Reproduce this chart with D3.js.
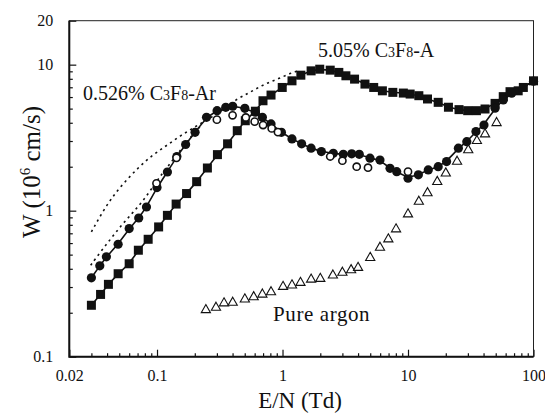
<script src="https://d3js.org/d3.v7.min.js"></script>
<style>
  body { margin: 0; background: #fff; }
  text { font-family: "Liberation Serif", "Times New Roman", serif; fill: #111; }
</style>
<svg width="545" height="414"></svg>
<script>
    // E/N (Td), W (10^6 cm/s)
    var mix526 = [
        [0.030, 0.347], [0.035, 0.419], [0.0395, 0.483], [0.049, 0.589], [0.060, 0.754],
        [0.0715, 0.891], [0.0824, 1.06], [0.100, 1.44], [0.121, 1.84], [0.144, 2.35],
        [0.169, 2.84], [0.201, 3.44], [0.248, 4.36], [0.301, 4.84], [0.353, 5.10],
        [0.401, 5.19], [0.501, 5.02], [0.608, 4.72], [0.691, 4.36], [0.81, 3.93],
        [0.98, 3.44], [1.19, 3.10], [1.42, 2.87], [1.69, 2.68], [2.04, 2.54],
        [2.54, 2.47], [3.05, 2.43], [3.56, 2.45], [4.09, 2.43], [4.98, 2.29],
        [5.98, 2.22], [7.19, 1.95], [8.13, 1.85], [10.0, 1.67], [12.1, 1.76],
        [14.5, 1.90], [17.4, 2.00], [20.3, 2.17], [25.2, 2.68], [29.4, 2.97],
        [34.8, 3.48], [40.3, 3.86], [49.4, 5.03], [57.4, 5.73], [67.0, 6.37], [100, 7.7]
    ];
    var mix526open = [
        [0.099, 1.54], [0.143, 2.3], [0.30, 4.2], [0.40, 4.5], [0.51, 4.35], [0.60, 4.07],
        [0.70, 3.86], [0.82, 3.66], [0.92, 3.45], [2.4, 2.35], [3.0, 2.2], [3.9, 2.0],
        [4.8, 1.97], [10.0, 1.85]
    ];
    var mix505 = [
        [0.030, 0.225], [0.0355, 0.267], [0.041, 0.313], [0.049, 0.37], [0.060, 0.433],
        [0.071, 0.536], [0.085, 0.637], [0.103, 0.774], [0.121, 0.929], [0.142, 1.11],
        [0.172, 1.31], [0.207, 1.58], [0.252, 1.96], [0.303, 2.42], [0.365, 2.87],
        [0.436, 3.53], [0.505, 4.13], [0.608, 4.8], [0.699, 5.66], [0.81, 6.19],
        [0.995, 6.98], [1.19, 7.75], [1.40, 8.47], [1.69, 9.07], [1.98, 9.31],
        [2.40, 9.17], [2.81, 8.85], [3.20, 8.39], [3.75, 7.96], [4.54, 7.36],
        [5.33, 6.98], [6.25, 6.62], [7.57, 6.46], [9.18, 6.39], [10.4, 6.29],
        [12.2, 6.13], [14.3, 5.82], [17.4, 5.52], [21.0, 5.11], [25.5, 4.92],
        [29.9, 4.84], [35.1, 4.84], [41.1, 4.97], [49.4, 5.43], [57.4, 6.04],
        [65.0, 6.53], [75.5, 6.62], [83.0, 6.98], [100, 7.75]
    ];
    var pureAr = [
        [0.245, 0.212], [0.295, 0.220], [0.342, 0.236], [0.401, 0.238], [0.501, 0.251],
        [0.589, 0.260], [0.691, 0.271], [0.81, 0.281], [1.01, 0.306], [1.19, 0.313],
        [1.39, 0.326], [1.69, 0.343], [2.00, 0.347], [2.52, 0.366], [3.00, 0.382],
        [3.52, 0.398], [4.00, 0.413], [5.00, 0.483], [5.98, 0.567], [6.97, 0.647],
        [8.03, 0.758], [10.0, 0.96], [12.2, 1.17], [14.3, 1.34], [17.1, 1.60],
        [20.0, 1.83], [24.6, 2.20], [30.2, 2.64], [35.4, 3.05], [41.1, 3.39], [50.8, 4.05]
    ];
    // dotted calculated curves
    var calcUpper = [
        [0.030, 0.716], [0.0355, 0.93], [0.043, 1.21], [0.0537, 1.53], [0.0715, 1.99],
        [0.0925, 2.41], [0.119, 2.79], [0.154, 3.27], [0.199, 3.73], [0.257, 4.25],
        [0.331, 4.84], [0.428, 5.81], [0.552, 6.46], [0.713, 7.36], [0.92, 7.96],
        [1.19, 8.85], [1.35, 9.07]
    ];
    var calcLower = [
        [0.0296, 0.423], [0.0355, 0.523], [0.043, 0.644], [0.052, 0.794], [0.063, 0.954],
        [0.0764, 1.15], [0.0925, 1.45], [0.112, 1.84], [0.136, 2.26], [0.164, 2.79],
        [0.199, 3.44], [0.225, 3.82]
    ];
    var xTickLabels = [0.02, 0.1, 1, 10, 100];
    var yTickLabels = [0.1, 1, 10, 20];

    var svg = d3.select("svg");
    var pLeft = 69.3, pRight = 533.5, pTop = 20.7, pBottom = 356.7;

    var x = d3.scaleLog().domain([0.02, 100]).range([pLeft, pRight]);
    var y = d3.scaleLog().domain([0.1, 20]).range([pBottom, pTop]);

    var xMinor = [], yMinor = [];
    [0.01, 0.1, 1, 10].forEach(function (d) {
        for (var k = 2; k <= 9; k++) {
            var v = +(d * k).toPrecision(3);
            if (v > 0.02 && v < 100) xMinor.push(v);
            if (v > 0.1 && v < 20) yMinor.push(v);
        }
    });

    // minor ticks
    svg.append("g")
        .attr("transform", "translate(0," + pBottom + ")")
        .call(d3.axisBottom(x).tickValues(xMinor).tickSize(-3.5).tickFormat(""))
        .call(function (g) { g.select(".domain").remove(); });
    svg.append("g")
        .attr("transform", "translate(" + pLeft + ",0)")
        .call(d3.axisLeft(y).tickValues(yMinor).tickSize(-3.5).tickFormat(""))
        .call(function (g) { g.select(".domain").remove(); });

    // major ticks + labels
    var xAxis = svg.append("g")
        .attr("transform", "translate(0," + pBottom + ")")
        .call(d3.axisBottom(x).tickValues(xTickLabels).tickSize(-7).tickPadding(13)
            .tickFormat(function (d) { return d; }));
    xAxis.select(".domain").remove();
    var yAxis = svg.append("g")
        .attr("transform", "translate(" + pLeft + ",0)")
        .call(d3.axisLeft(y).tickValues(yTickLabels).tickSize(-7).tickPadding(16)
            .tickFormat(function (d) { return d; }));
    yAxis.select(".domain").remove();
    svg.selectAll(".tick text")
        .attr("font-family", "Liberation Serif")
        .attr("font-size", "16px")
        .attr("fill", "#000");
    svg.selectAll(".tick line").attr("stroke", "#111").attr("stroke-width", 1.2);

    // frame
    svg.append("rect")
        .attr("x", pLeft).attr("y", pTop)
        .attr("width", pRight - pLeft).attr("height", pBottom - pTop)
        .attr("fill", "none").attr("stroke", "#222").attr("stroke-width", 1);
    svg.append("path")
        .attr("d", "M" + pLeft + "," + pTop + "V" + pBottom + "H" + pRight)
        .attr("fill", "none").attr("stroke", "#111").attr("stroke-width", 2);

    var line = d3.line()
        .x(function (d) { return x(d[0]); })
        .y(function (d) { return y(d[1]); })
        .curve(d3.curveBasis);

    [calcUpper, calcLower].forEach(function (s) {
        svg.append("path").datum(s)
            .attr("d", line)
            .attr("fill", "none").attr("stroke", "#111")
            .attr("stroke-width", 1.6).attr("stroke-dasharray", "2.2,3.8");
    });
    [mix526, mix505].forEach(function (s) {
        svg.append("path").datum(s)
            .attr("d", line)
            .attr("fill", "none").attr("stroke", "#111").attr("stroke-width", 1.6);
    });

    svg.append("g").selectAll("rect")
        .data(mix505).enter().append("rect")
        .attr("x", function (d) { return x(d[0]) - 4.5; })
        .attr("y", function (d) { return y(d[1]) - 4.5; })
        .attr("width", 9).attr("height", 9)
        .attr("fill", "#111");

    svg.append("g").selectAll("circle")
        .data(mix526).enter().append("circle")
        .attr("cx", function (d) { return x(d[0]); })
        .attr("cy", function (d) { return y(d[1]); })
        .attr("r", 4.6)
        .attr("fill", "#111");

    svg.append("g").selectAll("circle")
        .data(mix526open).enter().append("circle")
        .attr("cx", function (d) { return x(d[0]); })
        .attr("cy", function (d) { return y(d[1]); })
        .attr("r", 3.6)
        .attr("fill", "#fff").attr("stroke", "#111").attr("stroke-width", 1.6);

    svg.append("g").selectAll("path")
        .data(pureAr).enter().append("path")
        .attr("d", "M0,-4.5L4.6,3.6L-4.6,3.6Z")
        .attr("transform", function (d) { return "translate(" + x(d[0]) + "," + y(d[1]) + ")"; })
        .attr("fill", "#fff").attr("stroke", "#111").attr("stroke-width", 1.1);

    // labels
    function gasLabel(px, py, pct, tail) {
        var t = svg.append("text").attr("x", px).attr("y", py).attr("font-size", "20px");
        t.append("tspan").text(pct + " C");
        t.append("tspan").attr("font-size", "14px").text("3");
        t.append("tspan").text("F");
        t.append("tspan").attr("font-size", "14px").text("8");
        t.append("tspan").text("-" + tail);
        return t;
    }
    gasLabel(83, 100, "0.526%", "Ar");
    gasLabel(318, 57, "5.05%", "A");
    svg.append("text")
        .attr("x", 273).attr("y", 321)
        .attr("font-size", "21px").attr("letter-spacing", "0.6px")
        .text("Pure argon");

    svg.append("text")
        .attr("x", 300).attr("y", 408)
        .attr("text-anchor", "middle")
        .attr("font-size", "23px")
        .text("E/N (Td)");

    var yl = svg.append("text")
        .attr("transform", "translate(40,172) rotate(-90)")
        .attr("text-anchor", "middle")
        .attr("font-size", "25px");
    yl.append("tspan").text("W (10");
    yl.append("tspan").attr("font-size", "15px").attr("dy", "-10").text("6");
    yl.append("tspan").attr("dy", "10").text(" cm/s)");
</script>
